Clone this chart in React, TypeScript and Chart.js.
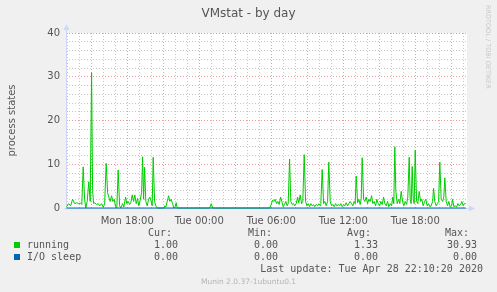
import React, { useEffect, useRef } from "react";
import { Chart, registerables } from "chart.js";

Chart.register(...registerables);

// minutes since Mon 00:00
const runningTimes = [
  777, 787, 797, 807, 817, 827, 837, 847, 853, 860, 867, 873, 880, 888, 895, 902, 907, 912, 918, 927,
  935, 943, 952, 960, 967, 975, 982, 988, 995, 1002, 1008, 1015, 1022, 1028, 1035, 1042, 1048, 1057, 1063, 1072,
  1078, 1085, 1092, 1098, 1105, 1112, 1118, 1125, 1132, 1138, 1145, 1152, 1157, 1162, 1167, 1173, 1180, 1187, 1193, 1200,
  1205, 1210, 1217, 1223, 1230, 1263, 1268, 1273, 1280, 1287, 1293, 1300, 1307, 1313, 1320, 1325, 1330, 1493, 1500, 1507,
  1793, 1800, 1807, 1813, 1820, 1827, 1833, 1840, 1847, 1853, 1860, 1867, 1873, 1880, 1885, 1892, 1898, 1905, 1912, 1918,
  1925, 1932, 1938, 1945, 1952, 1958, 1965, 1972, 1978, 1985, 1992, 1998, 2005, 2012, 2018, 2025, 2032, 2038, 2045, 2048,
  2055, 2062, 2068, 2075, 2082, 2088, 2095, 2102, 2108, 2115, 2122, 2128, 2135, 2142, 2148, 2155, 2162, 2168, 2175, 2182,
  2188, 2195, 2202, 2208, 2215, 2220, 2225, 2232, 2238, 2245, 2250, 2255, 2262, 2268, 2275, 2282, 2288, 2295, 2302, 2308,
  2315, 2322, 2328, 2335, 2342, 2348, 2355, 2362, 2368, 2375, 2382, 2388, 2395, 2402, 2408, 2413, 2418, 2423, 2430, 2437,
  2443, 2450, 2457, 2463, 2470, 2477, 2483, 2490, 2495, 2500, 2505, 2510, 2515, 2520, 2527, 2533, 2540, 2547, 2553, 2560,
  2567, 2573, 2580, 2587, 2593, 2600, 2607, 2612, 2618, 2625, 2632, 2637, 2643, 2650, 2657, 2663, 2668, 2675, 2682, 2688,
  2695, 2702, 2707, 2713, 2720, 2727, 2733, 2740, 2747, 2753, 2760, 2767, 2773,
];
const runningValues = [
  0.3, 1.0, 0.5, 2.0, 1.0, 1.2, 1.0, 1.1, 0.8, 9.4, 2.0, 0.0, 1.5, 6.0, 1.5, 30.93, 4.0, 1.0, 1.2, 0.8,
  1.0, 0.5, 1.0, 0.2, 0.8, 10.2, 3.5, 2.5, 1.5, 2.8, 1.5, 2.0, 0.3, 0.0, 8.7, 0.5, 0.0, 1.0, 0.2, 2.5,
  1.0, 1.5, 0.8, 1.2, 3.0, 1.5, 3.0, 1.0, 2.2, 0.5, 1.8, 3.5, 11.7, 2.0, 9.3, 1.5, 0.5, 2.0, 2.5, 1.5,
  0.5, 11.6, 1.5, 0.5, 0.0, 0.0, 0.5, 0.2, 1.5, 2.8, 1.5, 2.0, 1.0, 0.0, 0.3, 1.2, 0.0, 0.0, 1.0, 0.0,
  0.0, 0.8, 1.8, 1.5, 2.0, 1.0, 1.5, 0.8, 2.5, 1.5, 0.3, 0.8, 1.5, 0.5, 1.0, 11.2, 1.5, 0.8, 1.0, 0.5,
  1.0, 2.5, 1.2, 3.0, 1.0, 1.5, 12.2, 1.5, 0.5, 1.0, 0.3, 1.0, 0.5, 0.8, 0.3, 0.8, 0.5, 1.0, 0.5, 1.0,
  8.8, 1.0, 1.5, 0.5, 1.5, 10.5, 1.5, 0.5, 0.8, 0.3, 1.0, 0.5, 0.8, 0.5, 1.0, 0.3, 0.8, 0.5, 1.2, 0.5,
  1.0, 1.5, 1.0, 0.5, 1.5, 1.0, 7.3, 1.2, 2.0, 0.8, 2.0, 11.5, 2.0, 1.5, 2.5, 1.0, 2.0, 1.5, 2.8, 1.0,
  1.5, 0.5, 2.0, 1.0, 0.5, 1.5, 0.8, 2.5, 1.0, 0.5, 1.5, 0.3, 1.0, 0.5, 2.5, 1.0, 14.0, 4.0, 1.0, 2.0,
  1.0, 3.8, 1.5, 0.5, 1.5, 0.8, 2.5, 11.6, 2.0, 1.0, 9.5, 2.0, 1.0, 13.2, 1.5, 1.0, 3.8, 1.5, 2.0, 0.5,
  1.5, 2.0, 0.5, 1.0, 0.3, 0.5, 1.5, 4.5, 1.5, 0.5, 1.0, 1.5, 10.5, 2.0, 1.5, 2.5, 6.9, 1.5, 0.5, 1.5,
  0.2, 0.5, 2.0, 0.3, 0.5, 0.2, 1.0, 0.5, 0.8, 1.5, 0.5, 1.0, 1.0,
];
const ioSleepTimes = [777, 2773];
const ioSleepValues = [0, 0];

const xTickValues = [1080, 1440, 1800, 2160, 2520];
const xTickLabels = ["Mon 18:00", "Tue 00:00", "Tue 06:00", "Tue 12:00", "Tue 18:00"];
const yLabelValues = [0, 10, 20, 30, 40];

const legendNames = ["running", "I/O sleep"];
const legendColors = ["#00CC00", "#0066B3"];
const curValues = [1.0, 0.0];
const minValues = [0.0, 0.0];
const avgValues = [1.33, 0.0];
const maxValues = [30.93, 0.0];

const X_MIN = 774;
const X_MAX = 2779;

const GRID = "rgba(143,143,143,0.5)";
const MGRID = "rgba(222,79,79,0.55)";
const AXIS = "#CFD6F8";
const FONT = "'DejaVu Sans', sans-serif";
const MONO = "'DejaVu Sans Mono', monospace";

const framePlugin = {
  id: "frame",
  beforeDraw(chart: any) {
    const { ctx, chartArea: a } = chart;
    ctx.save();
    ctx.fillStyle = "#F0F0F0";
    ctx.fillRect(0, 0, chart.width, chart.height);
    ctx.fillStyle = "#FFFFFF";
    ctx.fillRect(a.left, a.top, a.right - a.left, a.bottom - a.top);
    ctx.restore();
  },
  beforeDatasetsDraw(chart: any) {
    const { ctx, chartArea: a } = chart;
    ctx.save();
    ctx.strokeStyle = AXIS;
    ctx.fillStyle = AXIS;
    ctx.lineWidth = 1;
    const lx = Math.round(a.left) + 0.5;
    const by = Math.round(a.bottom) + 0.5;
    ctx.beginPath();
    ctx.moveTo(lx, a.bottom + 2);
    ctx.lineTo(lx, a.top - 4);
    ctx.moveTo(a.left - 2, by);
    ctx.lineTo(a.right + 3, by);
    ctx.stroke();
    // arrows
    ctx.beginPath();
    ctx.moveTo(lx - 3, a.top - 3);
    ctx.lineTo(lx + 3, a.top - 3);
    ctx.lineTo(lx, a.top - 9);
    ctx.closePath();
    ctx.fill();
    ctx.beginPath();
    ctx.moveTo(a.right + 2, by - 3);
    ctx.lineTo(a.right + 2, by + 3);
    ctx.lineTo(a.right + 8, by);
    ctx.closePath();
    ctx.fill();
    ctx.restore();
  },
};

export default function App() {
  const ref = useRef<HTMLCanvasElement | null>(null);

  useEffect(() => {
    document.body.style.margin = "0";
    const canvas = ref.current;
    if (!canvas) return;
    const chart = new Chart(canvas, {
      type: "line",
      data: {
        datasets: [
          {
            label: legendNames[1],
            data: ioSleepTimes.map((t, i) => ({ x: t, y: ioSleepValues[i] })),
            borderColor: legendColors[1],
            borderWidth: 1,
            pointRadius: 0,
            tension: 0,
            clip: 4,
          } as any,
          {
            label: legendNames[0],
            data: runningTimes.map((t, i) => ({ x: t, y: runningValues[i] })),
            borderColor: legendColors[0],
            borderWidth: 1,
            pointRadius: 0,
            tension: 0,
            clip: 4,
          } as any,
        ],
      },
      options: {
        animation: false,
        responsive: false,
        devicePixelRatio: 1,
        layout: { padding: { left: 0, top: 33, right: 30, bottom: 0 } },
        plugins: { legend: { display: false }, tooltip: { enabled: false }, title: { display: false } },
        scales: {
          x: {
            type: "linear",
            min: X_MIN,
            max: X_MAX,
            afterFit(s: any) {
              s.height = 84;
            },
            afterBuildTicks(s: any) {
              const t = [];
              for (let v = 780; v <= 2760; v += 60) t.push({ value: v });
              s.ticks = t;
            },
            grid: {
              drawTicks: false,
              lineWidth: 1,
              color: (c: any) => (c.tick && c.tick.value % 180 === 0 ? MGRID : GRID),
            },
            border: { display: false, dash: [1, 2] },
            ticks: {
              autoSkip: false,
              maxRotation: 0,
              padding: 7,
              color: "#555555",
              font: { family: FONT, size: 10 },
              callback: (v: any) => {
                const i = xTickValues.indexOf(Number(v));
                return i >= 0 ? xTickLabels[i] : "";
              },
            },
          },
          y: {
            type: "linear",
            min: 0,
            max: 40,
            afterFit(s: any) {
              s.width = 66;
            },
            afterBuildTicks(s: any) {
              const t = [];
              for (let v = 0; v <= 40; v += 2) t.push({ value: v });
              s.ticks = t;
            },
            grid: {
              drawTicks: false,
              lineWidth: 1,
              color: (c: any) =>
                c.tick && c.tick.value === 0 ? "rgba(0,0,0,0)" : c.tick && c.tick.value % 10 === 0 ? MGRID : GRID,
            },
            border: { display: false, dash: [1, 2] },
            ticks: {
              autoSkip: false,
              padding: 6,
              color: "#555555",
              font: { family: FONT, size: 10 },
              callback: (v: any) => (yLabelValues.indexOf(Number(v)) >= 0 ? String(v) : ""),
            },
            title: {
              display: true,
              text: "process states",
              color: "#555555",
              font: { family: FONT, size: 10 },
              padding: { top: 6, bottom: 0 },
            },
          },
        },
      },
      plugins: [framePlugin],
    } as any);
    return () => chart.destroy();
  }, []);

  const abs = (extra: React.CSSProperties): React.CSSProperties => ({
    position: "absolute",
    whiteSpace: "pre",
    ...extra,
  });
  const monoText: React.CSSProperties = { fontFamily: MONO, fontSize: 10, lineHeight: "12px", color: "#555555" };
  const rows = [238.5, 250.5];
  const cols = [
    { head: "Cur:", headRight: 325, right: 319, vals: curValues },
    { head: "Min:", headRight: 225, right: 219, vals: minValues },
    { head: "Avg:", headRight: 126, right: 119, vals: avgValues },
    { head: "Max:", headRight: 28, right: 20, vals: maxValues },
  ];

  return (
    <div style={{ position: "relative", width: 497, height: 292, background: "#F0F0F0", overflow: "hidden" }}>
      <canvas ref={ref} width={497} height={292} style={{ position: "absolute", left: 0, top: 0 }} />
      <div
        style={abs({
          left: 0,
          top: 6,
          width: 497,
          textAlign: "center",
          fontFamily: FONT,
          fontSize: 12,
          lineHeight: "14px",
          color: "#555555",
        })}
      >
        VMstat - by day
      </div>
      <div
        style={abs({
          left: 484,
          top: 5,
          writingMode: "vertical-rl",
          fontFamily: FONT,
          fontSize: 6.5,
          lineHeight: "8px",
          color: "#C8C8C8",
        })}
      >
        RRDTOOL / TOBI OETIKER
      </div>
      {cols.map((c, ci) => (
        <div key={"h" + ci} style={abs({ ...monoText, right: c.headRight, top: 226.5 })}>
          {c.head}
        </div>
      ))}
      {legendNames.map((n, ri) => (
        <React.Fragment key={n}>
          <div
            style={abs({ left: 14, top: rows[ri] + 3.5, width: 6, height: 6, background: legendColors[ri] })}
          />
          <div style={abs({ ...monoText, left: 27, top: rows[ri] })}>{n}</div>
          {cols.map((c, ci) => (
            <div key={ci} style={abs({ ...monoText, right: c.right, top: rows[ri] })}>
              {c.vals[ri].toFixed(2)}
            </div>
          ))}
        </React.Fragment>
      ))}
      <div style={abs({ ...monoText, right: 14, top: 262.5 })}>Last update: Tue Apr 28 22:10:20 2020</div>
      <div
        style={abs({
          left: 0,
          width: 497,
          top: 276.5,
          textAlign: "center",
          fontFamily: FONT,
          fontSize: 7.5,
          lineHeight: "9px",
          color: "#B4B4B4",
        })}
      >
        Munin 2.0.37-1ubuntu0.1
      </div>
    </div>
  );
}
